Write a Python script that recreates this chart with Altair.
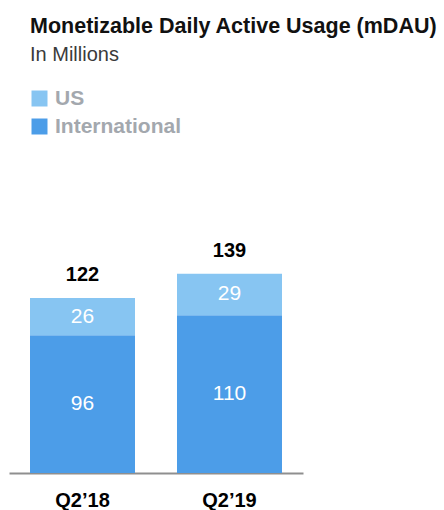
import altair as alt
import pandas as pd

quarters = ["Q2’18", "Q2’19"]
us = [26, 29]
international = [96, 110]
series = ["US", "International"]
colors = ["#87C5F2", "#4C9DE8"]

rows = []
for i, q in enumerate(quarters):
    rows.append({"quarter": q, "region": "International", "value": international[i], "rank": 0})
    rows.append({"quarter": q, "region": "US", "value": us[i], "rank": 1})
df = pd.DataFrame(rows)

FONT = "Liberation Sans"
yscale = alt.Scale(domain=[0, 162.5], nice=False)
xscale = alt.Scale(paddingInner=0.2857, paddingOuter=0.1429)

base = alt.Chart(df)
stacked = base.transform_stack(
    stack="value", as_=["v0", "v1"], groupby=["quarter"], sort=[alt.SortField("rank")]
).transform_calculate(mid="(datum.v0 + datum.v1) / 2")

bars = stacked.mark_bar().encode(
    x=alt.X("quarter:N", sort=quarters, scale=xscale,
            axis=alt.Axis(title=None, labelAngle=0, ticks=False, tickSize=0, grid=False,
                          domainColor="#8f8f8f", domainWidth=2, labelFont=FONT,
                          labelFontSize=20, labelFontWeight="bold", labelColor="#000000",
                          labelPadding=17)),
    y=alt.Y("v0:Q", scale=yscale, axis=None),
    y2="v1:Q",
    color=alt.Color("region:N", scale=alt.Scale(domain=series, range=colors),
                    legend=alt.Legend(title=None, orient="none", legendX=20, legendY=-152,
                                      symbolType="square", symbolSize=256, symbolStrokeWidth=0,
                                      symbolOpacity=1, labelFont=FONT, labelFontSize=21,
                                      labelFontWeight="bold", labelColor="#a3a8ae",
                                      rowPadding=6, labelOffset=5, padding=0)),
)

seg_text = stacked.mark_text(font=FONT, fontSize=21, color="white", baseline="middle").encode(
    x=alt.X("quarter:N", sort=quarters, scale=xscale),
    y=alt.Y("mid:Q", scale=yscale, axis=None),
    text="value:Q",
)

totals = base.transform_aggregate(total="sum(value)", groupby=["quarter"]).mark_text(
    font=FONT, fontSize=20, fontWeight="bold", color="black", baseline="middle", dy=-23
).encode(
    x=alt.X("quarter:N", sort=quarters, scale=xscale),
    y=alt.Y("total:Q", scale=yscale, axis=None),
    text="total:Q",
)

chart = alt.layer(bars, seg_text, totals).properties(
    width=294, height=233,
    autosize=alt.AutoSizeParams(type="none"),
    padding={"left": 9, "top": 240, "right": 141, "bottom": 37},
    title=alt.Title("Monetizable Daily Active Usage (mDAU)", subtitle="In Millions",
                    anchor="start", frame="group", dx=21, offset=23, font=FONT,
                    fontSize=21.5, fontWeight="bold", color="#111111",
                    subtitleFont=FONT, subtitleFontSize=20, subtitleColor="#3a3a3a",
                    subtitlePadding=8),
).configure(background="white").configure_view(stroke=None, strokeWidth=0)

chart.save("out.html", embed_options={"renderer": "svg", "actions": False})
